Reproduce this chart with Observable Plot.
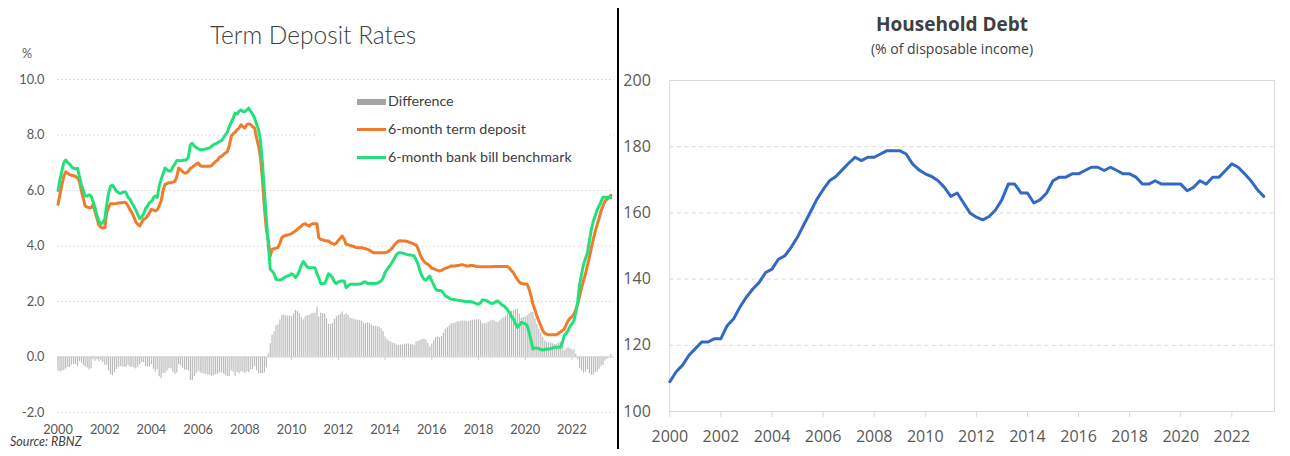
<!DOCTYPE html>
<html><head><meta charset="utf-8">
<script src="https://cdn.jsdelivr.net/npm/d3@7"></script>
<script src="https://cdn.jsdelivr.net/npm/@observablehq/plot@0.6"></script>
<style>
body{margin:0;background:#fff;}
#wrap{position:relative;width:1290px;height:456px;overflow:hidden;background:#fff;}
.abs{position:absolute;white-space:nowrap;line-height:1;}
.plot{position:absolute;top:0;}
</style></head><body><div id="wrap"></div>
<script>
// ---------- Term Deposit Rates (monthly, Jan 2000 – Sep 2023) ----------
const termDeposit = [
 5.50,5.86,6.20,6.51,6.67,6.62,6.57,6.55,6.53,6.51,6.45,6.33, // 2000
 5.98,5.70,5.44,5.40,5.38,5.38,5.50,5.25,5.00,4.75,4.68,4.65, // 2001
 4.66,5.20,5.40,5.52,5.52,5.52,5.53,5.55,5.56,5.56,5.58,5.55, // 2002
 5.44,5.30,5.20,5.05,4.87,4.78,4.72,4.85,4.96,5.00,5.08,5.20, // 2003
 5.32,5.30,5.26,5.30,5.45,5.62,6.00,6.22,6.25,6.28,6.28,6.30, // 2004
 6.33,6.50,6.81,6.75,6.68,6.63,6.63,6.70,6.80,6.84,6.90,6.95, // 2005
 6.99,6.90,6.87,6.87,6.87,6.87,6.87,6.90,6.98,7.05,7.10,7.20, // 2006
 7.23,7.30,7.35,7.40,7.60,7.95,8.05,8.10,8.19,8.25,8.37,8.30, // 2007
 8.25,8.37,8.40,8.38,8.30,8.25,7.90,7.60,7.20,6.40,5.40,4.60, // 2008
 4.18,3.64,3.88,3.90,3.92,3.94,4.10,4.30,4.36,4.38,4.40,4.42, // 2009
 4.45,4.50,4.54,4.60,4.66,4.72,4.78,4.80,4.75,4.72,4.78,4.80, // 2010
 4.80,4.80,4.30,4.24,4.22,4.20,4.18,4.18,4.12,4.08,4.06,4.10, // 2011
 4.20,4.28,4.36,4.25,4.06,4.05,4.02,4.00,3.98,3.95,3.94,3.94, // 2012
 3.94,3.92,3.90,3.88,3.85,3.80,3.76,3.76,3.76,3.76,3.76,3.76, // 2013
 3.76,3.78,3.82,3.88,3.95,4.06,4.12,4.18,4.19,4.18,4.18,4.17, // 2014
 4.15,4.12,4.10,4.06,4.04,3.90,3.70,3.55,3.45,3.38,3.34,3.28, // 2015
 3.20,3.18,3.15,3.12,3.10,3.12,3.16,3.20,3.22,3.25,3.28,3.28, // 2016
 3.28,3.30,3.30,3.32,3.32,3.30,3.28,3.28,3.30,3.30,3.28,3.26, // 2017
 3.25,3.25,3.25,3.25,3.25,3.25,3.25,3.25,3.26,3.26,3.26,3.26, // 2018
 3.26,3.26,3.26,3.26,3.20,3.10,3.04,2.90,2.80,2.70,2.65,2.64, // 2019
 2.63,2.62,2.45,2.20,1.90,1.70,1.49,1.30,1.13,0.95,0.85,0.82, // 2020
 0.80,0.80,0.80,0.80,0.80,0.85,0.89,0.95,1.00,1.15,1.30,1.40, // 2021
 1.45,1.55,1.70,1.90,2.20,2.50,2.75,3.00,3.30,3.60,3.94,4.25, // 2022
 4.54,4.78,5.00,5.26,5.45,5.62,5.68,5.74,5.83                 // 2023
];
const bankBill = [
 6.00,6.40,6.70,7.00,7.10,7.00,6.95,6.85,6.80,6.78,6.80,6.50, // 2000
 6.20,6.00,5.80,5.80,5.85,5.80,5.60,5.40,5.10,4.90,4.80,4.85, // 2001
 4.96,5.50,5.90,6.16,6.19,6.10,5.98,5.92,5.90,5.92,5.95,5.92, // 2002
 5.75,5.68,5.55,5.44,5.30,5.14,4.99,5.05,5.16,5.35,5.44,5.56, // 2003
 5.60,5.74,5.80,5.75,6.16,6.40,6.60,6.81,6.75,6.70,6.70,6.85, // 2004
 6.95,7.08,7.08,7.07,7.08,7.10,7.10,7.20,7.65,7.70,7.60,7.55, // 2005
 7.50,7.47,7.47,7.48,7.50,7.52,7.53,7.60,7.65,7.68,7.72,7.77, // 2006
 7.80,7.90,8.00,8.10,8.30,8.45,8.60,8.79,8.75,8.85,8.90,8.85, // 2007
 8.85,8.90,8.97,8.85,8.75,8.60,8.40,8.20,7.80,7.00,5.98,5.00, // 2008
 4.06,3.16,3.10,3.00,2.80,2.78,2.77,2.80,2.85,2.89,2.92,2.95, // 2009
 3.00,2.95,2.86,2.95,3.10,3.30,3.44,3.35,3.25,3.22,3.22,3.22, // 2010
 3.22,3.00,2.86,2.65,2.65,2.65,2.80,3.00,2.95,2.86,2.70,2.65, // 2011
 2.70,2.74,2.74,2.74,2.50,2.55,2.62,2.62,2.62,2.62,2.62,2.63, // 2012
 2.65,2.70,2.70,2.65,2.65,2.65,2.65,2.65,2.66,2.70,2.74,2.85, // 2013
 3.04,3.15,3.25,3.34,3.45,3.58,3.70,3.76,3.76,3.75,3.72,3.70, // 2014
 3.68,3.68,3.66,3.64,3.50,3.34,3.10,2.92,2.80,2.77,2.85,2.92, // 2015
 2.74,2.60,2.45,2.40,2.40,2.38,2.30,2.20,2.17,2.12,2.08,2.07, // 2016
 2.06,2.05,2.04,2.03,2.02,2.00,2.00,2.00,1.99,1.98,1.95,1.92, // 2017
 1.90,1.95,2.05,2.05,2.03,2.00,1.95,1.93,1.95,2.00,2.02,1.95, // 2018
 1.88,1.84,1.78,1.70,1.60,1.45,1.37,1.20,1.07,1.15,1.25,1.22, // 2019
 1.20,1.13,0.90,0.60,0.29,0.32,0.32,0.30,0.27,0.25,0.27,0.29, // 2020
 0.29,0.30,0.32,0.35,0.35,0.35,0.35,0.50,0.77,0.85,0.95,1.10, // 2021
 1.20,1.30,1.60,2.00,2.62,3.00,3.34,3.55,3.76,4.20,4.60,4.90, // 2022
 5.10,5.32,5.44,5.60,5.76,5.76,5.76,5.76,5.74                 // 2023
];
const rateTicks = [-2, 0, 2, 4, 6, 8, 10];
const yearTicks = [2000,2002,2004,2006,2008,2010,2012,2014,2016,2018,2020,2022];
const legendLabels = ["Difference", "6-month term deposit", "6-month bank bill benchmark"];

// ---------- Household Debt (% of disposable income, quarterly 2000Q1 – 2023Q2) ----------
const householdDebt = [
 109,112,114,117,   119,121,121,122,   122,126,128,131.6, 134.6,137,139,142,
 143,146,147,149.6, 152.7,156.5,160.2,164, 167,169.7,171,173, 175,176.8,175.8,176.8,
 176.8,177.8,178.8,178.8, 178.8,177.8,174.8,173, 171.8,171,169.7,167.7, 165,166,163,160,
 158.7,157.9,158.9,160.9, 164,168.7,168.7,166, 166,163,164,166, 169.7,170.8,170.8,171.8,
 171.8,172.8,173.8,173.8, 172.8,173.8,172.8,171.8, 171.8,170.8,168.7,168.7, 169.7,168.7,168.7,168.7,
 168.7,166.7,167.7,169.7, 168.7,170.8,170.8,172.8, 174.8,173.8,171.8,169.7, 167,165
];
const debtTicks = [100, 120, 140, 160, 180, 200];

// ---------- build ----------
const rates = termDeposit.map((td, i) => ({
  date: new Date(2000, i, 1), td, bb: bankBill[i], diff: td - bankBill[i]
}));
const yearDates = yearTicks.map(y => new Date(y, 0, 1));
const debt = householdDebt.map((v, i) => ({t: 2000 + i / 4, v}));

const wrap = document.getElementById("wrap");

const left = Plot.plot({
  width: 618, height: 456,
  marginLeft: 57.5, marginRight: 4, marginTop: 79, marginBottom: 44,
  style: {fontFamily: "Lato, sans-serif", fontSize: "12.8px", color: "#595959", background: "transparent"},
  x: {domain: [new Date(2000, 0, 1), new Date(2023, 9, 28)], label: null},
  y: {domain: [-2, 10], label: null},
  marks: [
    Plot.ruleY(rateTicks.filter(d => d !== 0), {stroke: "#d2d2d2", strokeDasharray: "1.5,2.5"}),
    Plot.ruleX(rates, {x: "date", y1: 0, y2: "diff", stroke: "#bababa", strokeWidth: 1.15}),
    Plot.ruleY([0], {stroke: "#cfcfcf"}),
    Plot.ruleX(yearDates, {x: d => d, y1: 0, y2: -0.14, stroke: "#cfcfcf"}),
    Plot.lineY(rates, {x: "date", y: "td", stroke: "#ef7b2c", strokeWidth: 3}),
    Plot.lineY(rates, {x: "date", y: "bb", stroke: "#24e07a", strokeWidth: 3}),
    Plot.axisY(rateTicks, {tickSize: 0, tickPadding: 13.5, tickFormat: d => d.toFixed(1)}),
    Plot.axisX(yearDates, {tickSize: 0, tickPadding: 12, tickFormat: d => String(d.getFullYear())})
  ]
});
left.classList.add("plot");
left.style.left = "0px";
wrap.appendChild(left);

const right = Plot.plot({
  width: 670, height: 456,
  marginLeft: 49.3, marginRight: 16, marginTop: 80, marginBottom: 45,
  style: {fontFamily: "'Open Sans', sans-serif", fontSize: "16px", color: "#595959", background: "transparent"},
  x: {domain: [2000, 2023.67], label: null},
  y: {domain: [100, 200], label: null},
  marks: [
    Plot.ruleY(debtTicks.filter(d => d > 100 && d < 200), {stroke: "#d9d9d9", strokeDasharray: "4,3.5"}),
    Plot.frame({stroke: "#d9d9d9"}),
    Plot.axisX(yearTicks, {tickSize: 6, tickFormat: () => "", stroke: "#d9d9d9"}),
    Plot.axisX(yearTicks, {tickSize: 0, tickPadding: 19, tickFormat: d => String(d)}),
    Plot.axisY(debtTicks, {tickSize: 0, tickPadding: 19}),
    Plot.lineY(debt, {x: "t", y: "v", stroke: "#3468c5", strokeWidth: 3})
  ]
});
right.classList.add("plot");
right.style.left = "620px";
wrap.appendChild(right);

// ---------- text & legend ----------
function addText(txt, opts) {
  const d = document.createElement("div");
  d.className = "abs";
  d.textContent = txt;
  Object.assign(d.style, opts);
  wrap.appendChild(d);
  return d;
}
// baseline helper: top = baseline - 0.888*size
function at(baseline, size) { return (baseline - 0.888 * size) + "px"; }

addText("Term Deposit Rates", {left: "113px", width: "400px", textAlign: "center", top: at(45, 24.5),
  fontFamily: "Lato, sans-serif", fontWeight: "300", fontSize: "24.5px", color: "#404040"});
addText("%", {left: "22px", top: at(59.3, 12.5), fontFamily: "Lato, sans-serif", fontSize: "12.5px", color: "#595959"});
addText("Source: RBNZ", {left: "10px", top: at(447.3, 12.5), fontFamily: "Lato, sans-serif", fontStyle: "italic",
  fontSize: "12.5px", color: "#404040"});

// legend box (covers gridline behind it, like the original)
const lg = document.createElement("div");
Object.assign(lg.style, {position: "absolute", left: "315px", top: "88px", width: "295px", height: "82px", background: "#fff"});
wrap.appendChild(lg);
const swatches = [
  {kind: "rect", color: "#a5a5a5"},
  {kind: "line", color: "#ef7b2c"},
  {kind: "line", color: "#24e07a"}
];
const rowCenters = [102, 129.5, 157.5];
legendLabels.forEach((lab, i) => {
  const sw = document.createElement("div");
  const h = swatches[i].kind === "rect" ? 6.5 : 3;
  Object.assign(sw.style, {position: "absolute", left: "357px", width: "29px", height: h + "px",
    top: (rowCenters[i] - h / 2) + "px", background: swatches[i].color});
  wrap.appendChild(sw);
  addText(lab, {left: "388px", top: at(rowCenters[i] + 5, 14.3), fontFamily: "Lato, sans-serif",
    fontSize: "14.3px", color: "#404040"});
});

addText("Household Debt", {left: "752px", width: "400px", textAlign: "center", top: at(32.3, 19),
  fontFamily: "'Open Sans', sans-serif", fontWeight: "700", fontSize: "19px", color: "#404040"});
addText("(% of disposable income)", {left: "752px", width: "400px", textAlign: "center", top: at(54, 14),
  fontFamily: "'Open Sans', sans-serif", fontSize: "14px", color: "#404040"});

// divider
const dv = document.createElement("div");
Object.assign(dv.style, {position: "absolute", left: "617px", top: "8px", width: "2px", height: "441px", background: "#000"});
wrap.appendChild(dv);
</script>
</body></html>
